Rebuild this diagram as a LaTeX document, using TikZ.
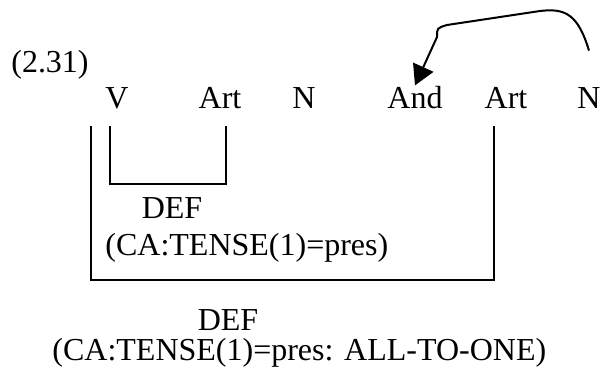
\documentclass[tikz,border=0pt]{standalone}
\usepackage{fontspec}
\setmainfont{Liberation Serif}
\usetikzlibrary{positioning, arrows.meta}
\tikzstyle{w} = [anchor=base, inner sep=0pt, font=\fontsize{16pt}{19pt}\selectfont]
\tikzstyle{br} = [line width=1pt]

\begin{document}
\begin{tikzpicture}[x=0.5pt, y=-0.5pt, >={Triangle[length=10pt, width=11pt]}]
    \useasboundingbox (0,0) rectangle (601,370);

    \node[w] (ex) at (50,72) {(2.31)};

    \node[w] (V) at (117,108) {V};
    \node[w] (Art1) at (220,108) {Art};
    \node[w] (N1) at (304,108) {N};
    \node[w] (And) at (415,108) {And};
    \node[w] (Art2) at (506,108) {Art};
    \node[w] (N2) at (589,108) {N};

    \node[w] (def1) at (172,218) {DEF};
    \node[w, anchor=base west] (ca1) at (105,255) {(CA:TENSE(1)=pres)};
    \node[w] (def2) at (228,330) {DEF};
    \node[w, anchor=base west] (ca2) at (52,360) {(CA:TENSE(1)=pres: ALL-TO-ONE)};

    \draw[br] ([xshift=-3.5pt, yshift=-9pt]V.base) -- ++(0,58) -| ([xshift=3pt, yshift=-9pt]Art1.base);
    \draw[br] ([xshift=-13pt, yshift=-9pt]V.base) -- ++(0,154) -| ([xshift=-6pt, yshift=-9pt]Art2.base);

    \draw[br, ->] ([yshift=18pt]N2.north) .. controls (578,14) and (565,8) .. (540,11)
        -- (447,25) .. controls (437,28) .. (437,37) -- (And.north);

\end{tikzpicture}
\end{document}
